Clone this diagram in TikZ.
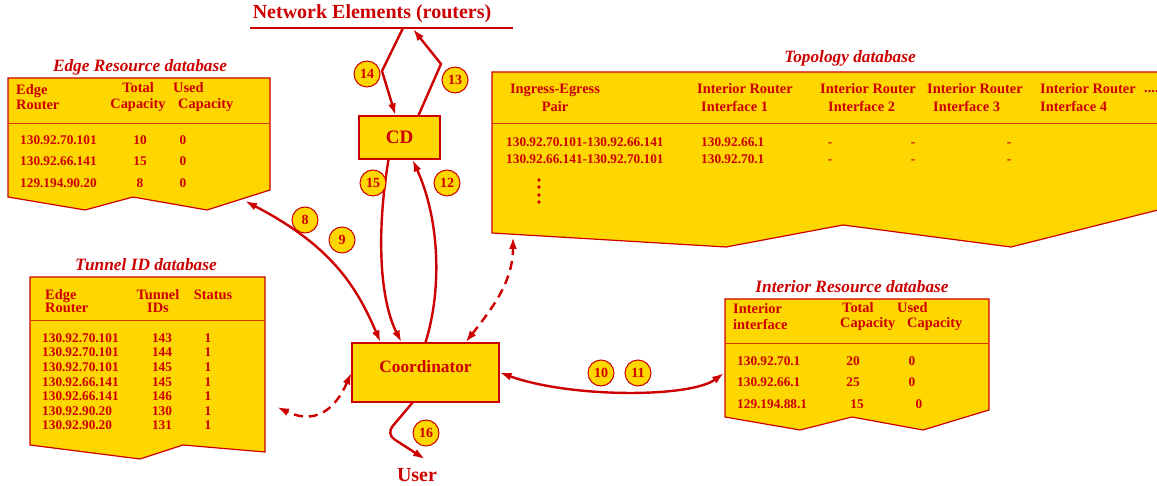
\documentclass[tikz,border=0pt]{standalone}
\usepackage{fontspec}
\setmainfont{Liberation Serif}
\usetikzlibrary{arrows.meta}

\definecolor{dbred}{RGB}{204,0,0}
\definecolor{dbgold}{RGB}{255,215,0}

\tikzset{
	db/.style = {draw = dbred, fill = dbgold, line width = 1.2pt},
	rule/.style = {dbred!75!dbgold, line width = 0.8pt},
	lbl/.style = {text = dbred, inner sep = 0pt, font = \bfseries\fontsize{13.3}{15}\selectfont},
	hdr/.style = {lbl, align = left, font = \bfseries\fontsize{14.4}{15.5}\selectfont},
	ttl/.style = {text = dbred, inner sep = 0pt, font = \bfseries\itshape\fontsize{17.3}{19}\selectfont},
	num/.style = {circle, draw = dbred, fill = dbgold, line width = 1pt, minimum size = 26pt, inner sep = 0pt, text = dbred, font = \bfseries\fontsize{14}{14}\selectfont},
	unit/.style = {draw = dbred, fill = dbgold, line width = 1.2pt, text = dbred},
	link/.style = {dbred, line width = 2.4pt},
	dlink/.style = {link, dash pattern = on 9pt off 6pt}
}

\begin{document}
\begin{tikzpicture}[> = {Latex[length = 12pt, width = 8pt]}, x = 1pt, y = -1pt]

	\useasboundingbox (0, 0) rectangle (1157, 486);

	% Network elements
	
	\node [lbl, font = \bfseries\fontsize{20}{22}\selectfont] (net) at (372, 14) {Network Elements (routers)};
	\draw [dbred, line width = 1.2pt] (250, 28) -- (513, 28);
	\coordinate (net14) at (403, 28);
	\coordinate (net13) at (413, 29);
	
	% Edge Resource database
	
	\node [ttl] (edgeTitle) at (140, 67) {Edge Resource database};
	\draw [db] (8, 78) -- (270, 78) -- (270, 190) -- (207, 210) -- (133, 197) -- (85, 210) -- (8, 197) -- cycle;
	\draw [rule] (8, 123) -- (270, 123);
	\coordinate (edgeCorner) at (245, 201);
	
	\node [hdr, anchor = west] (edgeRouter) at (16, 97) {Edge\\Router};
	\node [hdr, align = center] (edgeTotal) at (138, 97) {Total\\Capacity};
	\node [hdr, anchor = west] (edgeUsed) at (173, 97) {Used\\\hspace{5pt}Capacity};
	
	\foreach \ip/\tot [count = \i] in {130.92.70.101/10, 130.92.66.141/15, 129.194.90.20/8}
	{
		\node [lbl, anchor = west] (edgeIp\i) at (20, 118.5 + 21.5 * \i) {\ip};
		\node [lbl] (edgeTot\i) at (140, 118.5 + 21.5 * \i) {\tot};
		\node [lbl] (edgeFree\i) at (183, 118.5 + 21.5 * \i) {0};
	}
	
	% Tunnel ID database
	
	\node [ttl] (tunTitle) at (146, 265) {Tunnel ID database};
	\draw [db] (30, 277) -- (265, 277) -- (265, 452) -- (183, 445) -- (140, 459) -- (30, 445) -- cycle;
	\draw [rule] (30, 320) -- (265, 320);
	\coordinate (tunSide) at (277, 407);
	
	\node [hdr, anchor = west] (tunRouter) at (45, 301.5) {Edge\\[-2.5pt]Router};
	\node [hdr, align = center] (tunIds) at (158, 301.5) {Tunnel\\[-2.5pt]IDs};
	\node [hdr] (tunStatus) at (213, 295) {Status};
	
	\foreach \ip/\id [count = \i] in {130.92.70.101/143, 130.92.70.101/144, 130.92.70.101/145, 130.92.66.141/145, 130.92.66.141/146, 130.92.90.20/130, 130.92.90.20/131}
	{
		\node [lbl, anchor = west] (tunIp\i) at (42, 323.4 + 14.6 * \i) {\ip};
		\node [lbl] (tunId\i) at (162, 323.4 + 14.6 * \i) {\id};
		\node [lbl] (tunSt\i) at (208, 323.4 + 14.6 * \i) {1};
	}
	
	% Topology database
	
	\node [ttl] (topoTitle) at (850, 58) {Topology database};
	\begin{scope}
		\clip (0, 0) rectangle (1157, 486);
		\draw [db] (492, 72) -- (1170, 72) -- (1170, 207) -- (1011, 247) -- (843, 225) -- (726, 247) -- (492, 233) -- cycle;
		\draw [rule] (492, 123) -- (1170, 123);
	\end{scope}
	\coordinate (topoFoot) at (513, 237);
	
	\node [hdr, align = center] (topoPair) at (555, 98) {Ingress-Egress\\[2.5pt]Pair};
	\node [hdr, anchor = west] (topoIf1) at (697, 98) {Interior Router\\[2.5pt]\hspace{4pt}Interface 1};
	\node [hdr, anchor = west] (topoIf2) at (820, 98) {Interior Router\\[2.5pt]\hspace{8pt}Interface 2};
	\node [hdr, anchor = west] (topoIf3) at (927, 98) {Interior Router\\[2.5pt]\hspace{6pt}Interface 3};
	\node [hdr, anchor = west] (topoIf4) at (1040, 98) {Interior Router\\[2.5pt]Interface 4};
	\node [hdr, anchor = base west] (topoMore) at (1144, 93) {....};
	
	\node [lbl, anchor = west] (topoPairA) at (506, 142) {130.92.70.101-130.92.66.141};
	\node [lbl, anchor = west] (topoPairB) at (506, 159) {130.92.66.141-130.92.70.101};
	\node [lbl, anchor = west] (topoHopA) at (701, 142) {130.92.66.1};
	\node [lbl, anchor = west] (topoHopB) at (701, 159) {130.92.70.1};
	
	\foreach \x in {830, 913, 1009}
	{
		\node [lbl, anchor = base] (dashA\x) at (\x, 146.5) {-};
		\node [lbl, anchor = base] (dashB\x) at (\x, 163.5) {-};
	}
	
	\foreach \y in {180, 187, 195, 202}
		\fill [dbred] (539, \y) circle (1.8);
	
	% Interior Resource database
	
	\node [ttl] (intTitle) at (852, 287) {Interior Resource database};
	\draw [db] (725, 299) -- (989, 299) -- (989, 410) -- (923, 430) -- (852, 417) -- (800, 430) -- (725, 417) -- cycle;
	\draw [rule] (725, 343) -- (989, 343);
	\coordinate (intSide) at (724, 373);
	
	\node [hdr, anchor = west] (intIface) at (733, 316.5) {Interior\\interface};
	\node [hdr, anchor = west] (intTotal) at (840, 316.5) {\hspace{2pt}Total\\Capacity};
	\node [hdr, anchor = west] (intUsed) at (897, 316.5) {Used\\\hspace{10pt}Capacity};
	
	\foreach \ip/\tot/\tx/\ux [count = \i] in {130.92.70.1/20/853/912, 130.92.66.1/25/853/912, 129.194.88.1/15/857/919}
	{
		\node [lbl, anchor = west] (intIp\i) at (737, 339.5 + 21.5 * \i) {\ip};
		\node [lbl] (intTot\i) at (\tx, 339.5 + 21.5 * \i) {\tot};
		\node [lbl] (intFree\i) at (\ux, 339.5 + 21.5 * \i) {0};
	}
	
	% Units
	
	\node [unit, minimum width = 81pt, minimum height = 43pt, font = \bfseries\fontsize{19}{20}\selectfont] (cd) at (399.5, 137.5) {CD};
	\node [unit, minimum width = 147pt, minimum height = 59pt, text height = 12pt, text depth = 11pt, font = \bfseries\fontsize{17.3}{18}\selectfont] (coord) at (425.5, 372.5) {Coordinator};
	\node [lbl, font = \bfseries\fontsize{20}{22}\selectfont] (user) at (417, 475) {User};
	
	% Links
	
	\draw [link, ->] (net14) -- (382, 71) -- ([xshift = -4pt] cd.north);
	\draw [link, ->] ([xshift = 19pt] cd.north) -- (441, 64) -- (net13);
	\draw [link, ->] ([xshift = -11pt] cd.south) .. controls (376, 235) and (380, 300) .. ([xshift = -24pt] coord.north);
	\draw [link, ->] (coord.north) .. controls (442, 290) and (440, 220) .. ([xshift = 13pt] cd.south);
	\draw [link, <->] (edgeCorner) .. controls (330, 245) and (356, 285) .. ([xshift = -45pt] coord.north);
	\draw [dlink, <->] ([xshift = 40pt] coord.north) .. controls (495, 305) and (513, 280) .. (topoFoot);
	\draw [dlink, <->] (coord.west) .. controls (335, 410) and (315, 425) .. (tunSide);
	\draw [link, <->] (coord.east) .. controls (570, 398) and (690, 398) .. (intSide);
	\draw [link, ->, rounded corners = 10pt] ([xshift = -13pt] coord.south) -- (386, 434) -- ([xshift = 8pt, yshift = 9pt] user.north);
	
	% Step numbers
	
	\node [num] (c8) at (305, 220) {8};
	\node [num] (c9) at (342, 240) {9};
	\node [num] (c10) at (601, 373) {10};
	\node [num] (c11) at (638, 373) {11};
	\node [num] (c12) at (447, 183) {12};
	\node [num] (c13) at (455, 80) {13};
	\node [num] (c14) at (367, 74) {14};
	\node [num] (c15) at (373, 183) {15};
	\node [num] (c16) at (426, 433) {16};

\end{tikzpicture}
\end{document}
